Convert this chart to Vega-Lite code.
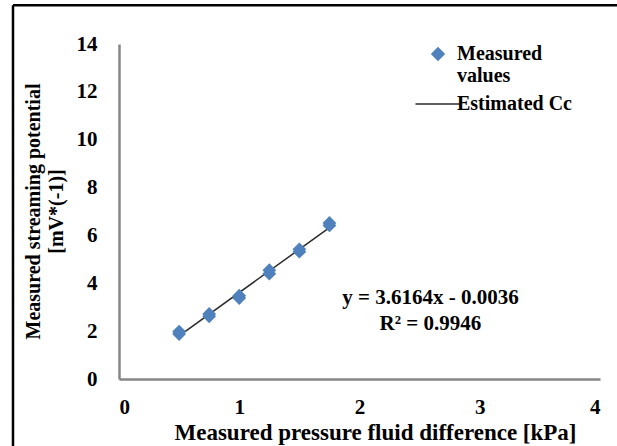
{
  "$schema": "https://vega.github.io/schema/vega-lite/v6.json",
  "width": 481,
  "height": 335,
  "autosize": {"type": "none"},
  "padding": {"left": 119, "top": 44, "right": 17, "bottom": 67},
  "background": "white",
  "config": {
    "view": {"stroke": null},
    "font": "Liberation Serif",
    "axis": {
      "grid": false,
      "ticks": false,
      "domainColor": "#868686",
      "domainWidth": 2.5,
      "labelFont": "Liberation Serif",
      "labelFontWeight": "bold",
      "labelFontSize": 21,
      "labelColor": "#000000",
      "titleFont": "Liberation Serif",
      "titleFontWeight": "bold",
      "titleColor": "#000000"
    }
  },
  "datasets": {
    "points": [
      {"dp": 0.5, "sp": 1.88},
      {"dp": 0.5, "sp": 1.98},
      {"dp": 0.75, "sp": 2.62},
      {"dp": 0.75, "sp": 2.72},
      {"dp": 1.0, "sp": 3.38},
      {"dp": 1.0, "sp": 3.48},
      {"dp": 1.25, "sp": 4.4},
      {"dp": 1.25, "sp": 4.55},
      {"dp": 1.5, "sp": 5.32},
      {"dp": 1.5, "sp": 5.42},
      {"dp": 1.75, "sp": 6.42},
      {"dp": 1.75, "sp": 6.52}
    ],
    "fit": [
      {"dp": 0.5, "sp": 1.805},
      {"dp": 1.75, "sp": 6.325}
    ]
  },
  "layer": [
    {
      "data": {"name": "fit"},
      "mark": {"type": "line", "strokeWidth": 1.5},
      "encoding": {
        "x": {
          "field": "dp", "type": "quantitative",
          "scale": {"domain": [0, 4], "nice": false},
          "axis": {
            "values": [0, 1, 2, 3, 4],
            "format": "d",
            "labelPadding": 17,
            "title": "Measured pressure fluid difference [kPa]",
            "titleFontSize": 23,
            "titleX": 256,
            "titleY": 53,
            "titleBaseline": "middle"
          }
        },
        "y": {
          "field": "sp", "type": "quantitative",
          "scale": {"domain": [0, 14], "nice": false},
          "axis": {
            "values": [0, 2, 4, 6, 8, 10, 12, 14],
            "format": "d",
            "labelPadding": 22,
            "title": ["Measured streaming potential", "[mV*(-1)]"],
            "titleFontSize": 20,
            "titleX": -86,
            "titleY": 167,
            "titleBaseline": "middle",
            "titleAlign": "center",
            "titleLineHeight": 23
          }
        },
        "color": {
          "datum": "Estimated Cc",
          "scale": {"domain": ["Measured values", "Estimated Cc"], "range": ["#4F81BD", "#2b2b2b"]},
          "legend": {
            "orient": "none",
            "legendX": 309,
            "legendY": 0,
            "padding": 0,
            "title": null,
            "symbolType": "stroke",
            "symbolSize": 2025,
            "labelFont": "Liberation Serif",
            "labelFontWeight": "bold",
            "labelFontSize": 20,
            "labelColor": "#000000",
            "labelOffset": 9,
            "labelBaseline": "middle",
            "labelExpr": "datum.value === 'Measured values' ? ['Measured', 'values'] : datum.label",
            "rowPadding": 8,
            "encode": {
              "symbols": {
                "update": {
                  "shape": {"signal": "datum.value === 'Estimated Cc' ? 'stroke' : 'diamond'"},
                  "size": {"signal": "datum.value === 'Estimated Cc' ? 2025 : 150"},
                  "fill": {"signal": "datum.value === 'Estimated Cc' ? 'transparent' : '#4F81BD'"},
                  "stroke": {"signal": "datum.value === 'Estimated Cc' ? '#000000' : 'transparent'"},
                  "strokeWidth": {"value": 1.5},
                  "opacity": {"value": 1}
                }
              }
            }
          }
        }
      }
    },
    {
      "data": {"name": "points"},
      "mark": {"type": "point", "shape": "diamond", "filled": true, "size": 190, "opacity": 1},
      "encoding": {
        "x": {"field": "dp", "type": "quantitative", "scale": {"domain": [0, 4], "nice": false}},
        "y": {"field": "sp", "type": "quantitative", "scale": {"domain": [0, 14], "nice": false}},
        "color": {"datum": "Measured values"}
      }
    },
    {
      "data": {"values": [{"eq": "y = 3.6164x - 0.0036"}]},
      "mark": {"type": "text", "font": "Liberation Serif", "fontWeight": "bold", "fontSize": 21, "color": "#000000", "align": "center", "baseline": "middle"},
      "encoding": {
        "x": {"datum": 2.59, "type": "quantitative", "scale": {"domain": [0, 4], "nice": false}},
        "y": {"datum": 3.4, "type": "quantitative", "scale": {"domain": [0, 14], "nice": false}},
        "text": {"field": "eq"}
      }
    },
    {
      "data": {"values": [{"eq": "R² = 0.9946"}]},
      "mark": {"type": "text", "font": "Liberation Serif", "fontWeight": "bold", "fontSize": 21, "color": "#000000", "align": "center", "baseline": "middle"},
      "encoding": {
        "x": {"datum": 2.59, "type": "quantitative", "scale": {"domain": [0, 4], "nice": false}},
        "y": {"datum": 2.3, "type": "quantitative", "scale": {"domain": [0, 14], "nice": false}},
        "text": {"field": "eq"}
      }
    },
    {
      "data": {"values": [{"k": 1}]},
      "mark": {"type": "rule", "color": "#000000", "strokeWidth": 2.5, "clip": false},
      "encoding": {
        "x": {"datum": -0.8815, "type": "quantitative", "scale": {"domain": [0, 4], "nice": false}},
        "y": {"datum": 15.62, "type": "quantitative", "scale": {"domain": [0, 14], "nice": false}},
        "y2": {"datum": -5}
      }
    },
    {
      "data": {"values": [{"k": 1}]},
      "mark": {"type": "rule", "color": "#000000", "strokeWidth": 2.5, "clip": false},
      "encoding": {
        "y": {"datum": 15.62, "type": "quantitative", "scale": {"domain": [0, 14], "nice": false}},
        "x": {"datum": -0.8815, "type": "quantitative", "scale": {"domain": [0, 4], "nice": false}},
        "x2": {"datum": 5}
      }
    }
  ]
}
